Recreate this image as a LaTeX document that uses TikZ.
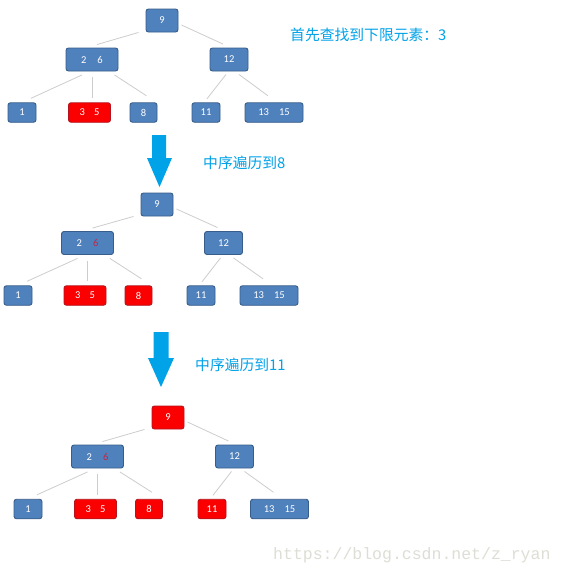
\documentclass[tikz,border=0pt]{standalone}
\usepackage{fontspec}
\setmainfont{Carlito}
\newfontfamily\cjkfont{Noto Sans CJK SC}
\newfontfamily\wmfont{Liberation Mono}
\usetikzlibrary{calc}
\definecolor{keyblue}{RGB}{79,129,189}
\definecolor{keyedge}{RGB}{56,93,138}
\definecolor{hitred}{RGB}{250,0,0}
\definecolor{hitedge}{RGB}{180,20,30}
\definecolor{sixred}{RGB}{192,40,70}
\definecolor{linkgray}{RGB}{205,205,205}
\definecolor{cyanink}{RGB}{0,162,232}
\definecolor{wmgray}{RGB}{222,222,214}
\tikzset{
	keybox/.style={draw=keyedge, fill=keyblue, line width=0.9pt, rounded corners=2.5pt, text=white, font=\fontsize{10.5}{12}\selectfont, inner sep=0pt, minimum height=19.5pt},
	hitbox/.style={keybox, draw=hitedge, fill=hitred},
	upper/.style={minimum height=23pt},
	link/.style={draw=linkgray, line width=0.8pt},
	note/.style={anchor=west, text=cyanink, font=\cjkfont\fontsize{14.8}{16}\selectfont, inner sep=0pt},
	flow/.style={fill=cyanink}
}

\begin{document}
\begin{tikzpicture}[x=1pt, y=-1pt]
			%%%%% START %%%%%
			\fill[white] (0,0) rectangle (564,576);
			\useasboundingbox (0,0) rectangle (564,576);
			
			\node[keybox, upper, minimum width=32pt] (a9) at (162, 20.5) {9};
			\node[keybox, upper, minimum width=52pt] (a26) at (92, 59.5) {2\hspace{11pt}6};
			\node[keybox, upper, minimum width=38pt] (a12) at (229, 59.5) {12};
			\node[keybox, minimum width=28pt] (a1) at (22, 112.5) {1};
			\node[hitbox, minimum width=42pt] (a35) at (89.5, 112.5) {3\hspace{9pt}5};
			\node[keybox, minimum width=27pt] (a8) at (143.5, 112.5) {8};
			\node[keybox, minimum width=28pt] (a11) at (206, 112.5) {11};
			\node[keybox, minimum width=58pt] (a1315) at (274, 112.5) {13\hspace{10pt}15};
			
			\draw[link] ([xshift=-7pt]a9.south west) -- ([xshift=5pt,yshift=3pt]a26.north);
			\draw[link] ([xshift=3pt,yshift=-4.5pt]a9.east) -- ([xshift=-6pt,yshift=3.5pt]a12.north);
			\draw[link] ([xshift=-10pt,yshift=-3.5pt]a26.south) -- ([xshift=9pt,yshift=4pt]a1.north);
			\draw[link, shorten <=6pt, shorten >=4pt] (a26.south) -- (a26.south |- a35.north);
			\draw[link] ([xshift=-4pt,yshift=-3.5pt]a26.south east) -- ([xshift=3pt,yshift=6.5pt]a8.north);
			\draw[link] ([xshift=-3pt,yshift=-3pt]a12.south) -- ([xshift=1pt,yshift=3.5pt]a11.north);
			\draw[link] ([xshift=10pt,yshift=-3pt]a12.south) -- ([xshift=-6pt,yshift=6.5pt]a1315.north);
			
			\node[note] (t1) at (290, 35) {首先查找到下限元素：3};
			
			\fill[flow] (152,135) -- (166,135) -- (166,158) -- (172,158) -- (159.5,187) -- (147,158) -- (152,158) -- cycle;
			\node[note] (t2) at (203, 163) {中序遍历到8};
			
			\node[keybox, upper, minimum width=32pt] (b9) at (157, 204.5) {9};
			\node[keybox, upper, minimum width=52pt] (b26) at (87.5, 243) {2\hspace{11pt}\textcolor{sixred}{6}};
			\node[keybox, upper, minimum width=38pt] (b12) at (223.5, 243) {12};
			\node[keybox, minimum width=28pt] (b1) at (18, 295.5) {1};
			\node[hitbox, minimum width=42pt] (b35) at (85, 295.5) {3\hspace{9pt}5};
			\node[hitbox, minimum width=27pt] (b8) at (138.5, 295.5) {8};
			\node[keybox, minimum width=28pt] (b11) at (201, 295.5) {11};
			\node[keybox, minimum width=58pt] (b1315) at (269, 295.5) {13\hspace{10pt}15};
			
			\draw[link] ([xshift=-7pt]b9.south west) -- ([xshift=5pt,yshift=3pt]b26.north);
			\draw[link] ([xshift=3pt,yshift=-4.5pt]b9.east) -- ([xshift=-6pt,yshift=3.5pt]b12.north);
			\draw[link] ([xshift=-10pt,yshift=-3.5pt]b26.south) -- ([xshift=9pt,yshift=4pt]b1.north);
			\draw[link, shorten <=6pt, shorten >=4pt] (b26.south) -- (b26.south |- b35.north);
			\draw[link] ([xshift=-4pt,yshift=-3.5pt]b26.south east) -- ([xshift=3pt,yshift=6.5pt]b8.north);
			\draw[link] ([xshift=-3pt,yshift=-3pt]b12.south) -- ([xshift=1pt,yshift=3.5pt]b11.north);
			\draw[link] ([xshift=10pt,yshift=-3pt]b12.south) -- ([xshift=-6pt,yshift=6.5pt]b1315.north);
			
			\fill[flow] (153.5,332) -- (168.5,332) -- (168.5,358) -- (174,358) -- (161,387) -- (148,358) -- (153.5,358) -- cycle;
			\node[note] (t3) at (195, 365) {中序遍历到11};
			
			\node[hitbox, upper, minimum width=32pt] (c9) at (168, 417.5) {9};
			\node[keybox, upper, minimum width=52pt] (c26) at (97.5, 456.5) {2\hspace{11pt}\textcolor{sixred}{6}};
			\node[keybox, upper, minimum width=38pt] (c12) at (234.5, 456.5) {12};
			\node[keybox, minimum width=28pt] (c1) at (28, 509) {1};
			\node[hitbox, minimum width=42pt] (c35) at (95.5, 509) {3\hspace{9pt}5};
			\node[hitbox, minimum width=27pt] (c8) at (149, 509) {8};
			\node[hitbox, minimum width=28pt] (c11) at (212, 509) {11};
			\node[keybox, minimum width=58pt] (c1315) at (279.5, 509) {13\hspace{10pt}15};
			
			\draw[link] ([xshift=-7pt]c9.south west) -- ([xshift=5pt,yshift=3pt]c26.north);
			\draw[link] ([xshift=3pt,yshift=-4.5pt]c9.east) -- ([xshift=-6pt,yshift=3.5pt]c12.north);
			\draw[link] ([xshift=-10pt,yshift=-3.5pt]c26.south) -- ([xshift=9pt,yshift=4pt]c1.north);
			\draw[link, shorten <=6pt, shorten >=4pt] (c26.south) -- (c26.south |- c35.north);
			\draw[link] ([xshift=-4pt,yshift=-3.5pt]c26.south east) -- ([xshift=3pt,yshift=6.5pt]c8.north);
			\draw[link] ([xshift=-3pt,yshift=-3pt]c12.south) -- ([xshift=1pt,yshift=3.5pt]c11.north);
			\draw[link] ([xshift=10pt,yshift=-3pt]c12.south) -- ([xshift=-6pt,yshift=6.5pt]c1315.north);
			
			\node[anchor=west, inner sep=0pt, text=wmgray, font=\wmfont\fontsize{16.5}{18}\selectfont] (wm) at (273, 555) {https://blog.csdn.net/z\_ryan};
			%%%%% END %%%%%
\end{tikzpicture}
\end{document}
